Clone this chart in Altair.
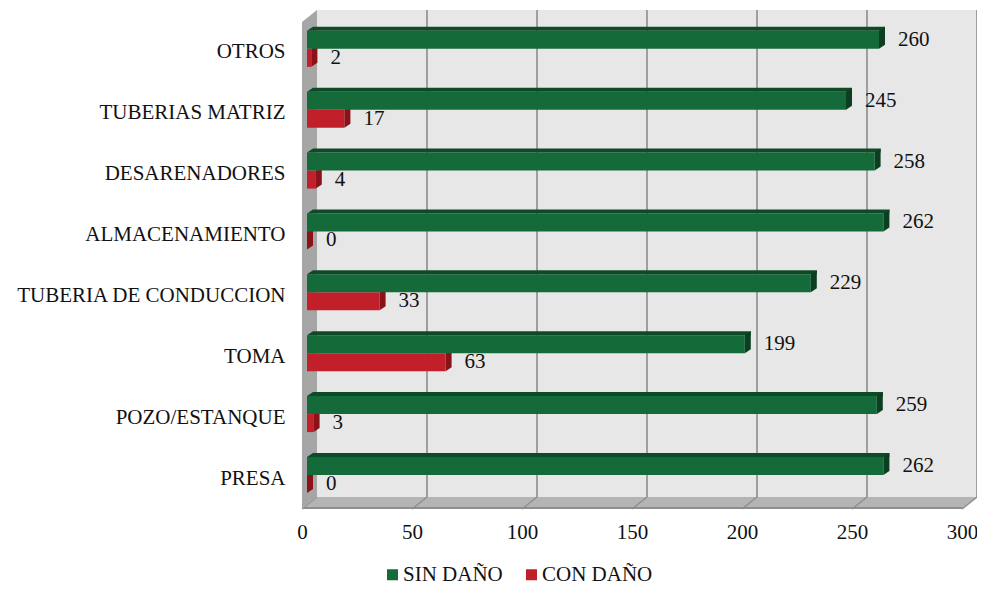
import altair as alt
import pandas as pd

# ---------------- data ----------------
categories = ["OTROS", "TUBERIAS MATRIZ", "DESARENADORES", "ALMACENAMIENTO",
              "TUBERIA DE CONDUCCION", "TOMA", "POZO/ESTANQUE", "PRESA"]
sin_dano = [260, 245, 258, 262, 229, 199, 259, 262]
con_dano = [2, 17, 4, 0, 33, 63, 3, 0]
series = ["SIN DAÑO", "CON DAÑO"]
x_ticks = [0, 50, 100, 150, 200, 250, 300]

# ---------------- style ----------------
FONT = "'Liberation Serif', 'Times New Roman', Times, serif"
FS = 21
GREEN, GREEN_TOP, GREEN_SIDE = "#146A39", "#0F4A28", "#0C3F22"
RED, RED_SIDE = "#C1202A", "#8A1319"
WALL, GRID, SIDE_WALL, FLOOR, EDGE = "#E7E7E7", "#9E9E9E", "#A6A6A6", "#B4B4B4", "#8E8E8E"

W, H = 660, 487          # front plane of the plot
DX, DY = 15, 12          # depth of the walls
BDX, BDY = 6, 4          # depth of the bars
BAR_H = 18
SPLIT = -3.6             # offset from band centre between the two bars
BX = 5                   # bars sit a little behind the front plane
PAD = {"left": 294, "top": 14, "right": 15, "bottom": 78}   # total 969 x 579

rows = []
for c, s, d in zip(categories, sin_dano, con_dano):
    rows.append({"cat": c, "serie": series[0], "value": s, "zero": 0})
    rows.append({"cat": c, "serie": series[1], "value": d, "zero": 0})
df = pd.DataFrame(rows)
ticks_df = pd.DataFrame({"tick": x_ticks})
one = pd.DataFrame({"k": [0]})

x_scale = alt.Scale(domain=[0, 300], nice=False, zero=True)
x_axis = alt.Axis(values=x_ticks, grid=False, domain=False, ticks=False, tickSize=0,
                  labelPadding=12, labelFontSize=FS, labelFont=FONT, labelColor="#111111",
                  labelFlush=False, title=None)
y_axis = alt.Axis(domain=False, ticks=False, tickSize=0, labelPadding=17, labelFontSize=FS,
                  labelFont=FONT, labelColor="#111111", labelLimit=400, title=None)


def xq(field):
    return alt.X(field, scale=x_scale, axis=x_axis)


def xd(v):
    return alt.XDatum(v, scale=x_scale, axis=x_axis)


y_enc = alt.Y("cat:N", sort=categories, axis=y_axis,
              scale=alt.Scale(domain=categories, paddingInner=0, paddingOuter=0))

color_enc = alt.Color("serie:N", scale=alt.Scale(domain=series, range=[GREEN, RED]),
                      legend=alt.Legend(title=None, orient="none", legendX=80, legendY=542,
                                        direction="horizontal", symbolType="square",
                                        symbolSize=121, symbolStrokeWidth=0,
                                        labelFontSize=FS, labelFont=FONT,
                                        labelColor="#111111", labelOffset=0,
                                        columnPadding=18))

shape_kw = dict(size=4, filled=True, opacity=1, strokeWidth=0)

# ---------------- walls ----------------
back_wall = alt.Chart(one).mark_rect(color=WALL, xOffset=DX, x2Offset=DX).encode(
    x=xd(0), x2=alt.X2Datum(300), y=alt.value(-DY), y2=alt.value(H - DY))

grid = alt.Chart(ticks_df).transform_filter("datum.tick > 0").mark_rule(
    color=GRID, strokeWidth=2, xOffset=DX).encode(
    x=xq("tick:Q"), y=alt.value(-DY), y2=alt.value(H - DY))

floor_path = f"M0,0L{W},0L{W + DX},{-DY}L{DX},{-DY}Z"
floor = alt.Chart(one).mark_point(shape=floor_path, color=FLOOR, **shape_kw).encode(
    x=xd(0), y=alt.value(H))

floor_lines = alt.Chart(ticks_df).mark_rule(color=EDGE, strokeWidth=1.5, x2Offset=DX).encode(
    x=xq("tick:Q"), x2="tick:Q", y=alt.value(H), y2=alt.value(H - DY))

floor_edge = alt.Chart(one).mark_rule(color=EDGE, strokeWidth=2).encode(
    x=xd(0), x2=alt.X2Datum(300), y=alt.value(H - 1))

left_path = f"M0,0L{DX},{-DY}L{DX},{H - DY}L0,{H}Z"
left_wall = alt.Chart(one).mark_point(shape=left_path, color=SIDE_WALL, **shape_kw).encode(
    x=xd(0), y=alt.value(0))

# ---------------- bars ----------------
side_path = f"M0,0L{BDX},{-BDY}L{BDX},{BAR_H - BDY}L0,{BAR_H}Z"
top_left_path = f"M0,0L{BDX},{-BDY}L{BDX},0Z"

red = df[df.serie == series[1]]
green = df[df.serie == series[0]]

red_front = alt.Chart(red).mark_bar(height=BAR_H, yOffset=SPLIT + BAR_H / 2,
                                    xOffset=BX, x2Offset=BX).encode(
    x=xq("zero:Q"), x2="value:Q", y=y_enc, color=color_enc)
red_side = alt.Chart(red).mark_point(shape=side_path, color=RED_SIDE, xOffset=BX,
                                     yOffset=SPLIT, **shape_kw).encode(
    x=xq("value:Q"), y=y_enc)

g_top = SPLIT - BAR_H
green_front = alt.Chart(green).mark_bar(height=BAR_H, yOffset=SPLIT - BAR_H / 2,
                                        xOffset=BX, x2Offset=BX).encode(
    x=xq("zero:Q"), x2="value:Q", y=y_enc, color=color_enc)
green_top = alt.Chart(green).mark_bar(height=BDY, yOffset=g_top - BDY / 2, color=GREEN_TOP,
                                      xOffset=BX + BDX, x2Offset=BX + BDX).encode(
    x=xq("zero:Q"), x2="value:Q", y=y_enc)
green_top_left = alt.Chart(green).mark_point(shape=top_left_path, color=GREEN_TOP, xOffset=BX,
                                             yOffset=g_top, **shape_kw).encode(
    x=xq("zero:Q"), y=y_enc)
green_side = alt.Chart(green).mark_point(shape=side_path, color=GREEN_SIDE, xOffset=BX,
                                         yOffset=g_top, **shape_kw).encode(
    x=xq("value:Q"), y=y_enc)

# ---------------- value labels ----------------
txt_kw = dict(align="left", baseline="middle", dx=BX + 19, fontSize=FS, font=FONT, color="#111111")
green_lbl = alt.Chart(green).mark_text(dy=SPLIT - BAR_H / 2, **txt_kw).encode(
    x=xq("value:Q"), y=y_enc, text="value:Q")
red_lbl = alt.Chart(red).mark_text(dy=SPLIT + BAR_H / 2, **txt_kw).encode(
    x=xq("value:Q"), y=y_enc, text="value:Q")

chart = alt.layer(
    back_wall, grid, floor, floor_lines, floor_edge, left_wall,
    red_front, red_side, green_front, green_top, green_top_left, green_side,
    green_lbl, red_lbl,
).properties(
    width=W, height=H, padding=PAD,
    autosize=alt.AutoSizeParams(type="none"),
).configure(font=FONT, background="white").configure_view(strokeWidth=0)

chart.save("out.html", embed_options={"renderer": "svg", "actions": False})
